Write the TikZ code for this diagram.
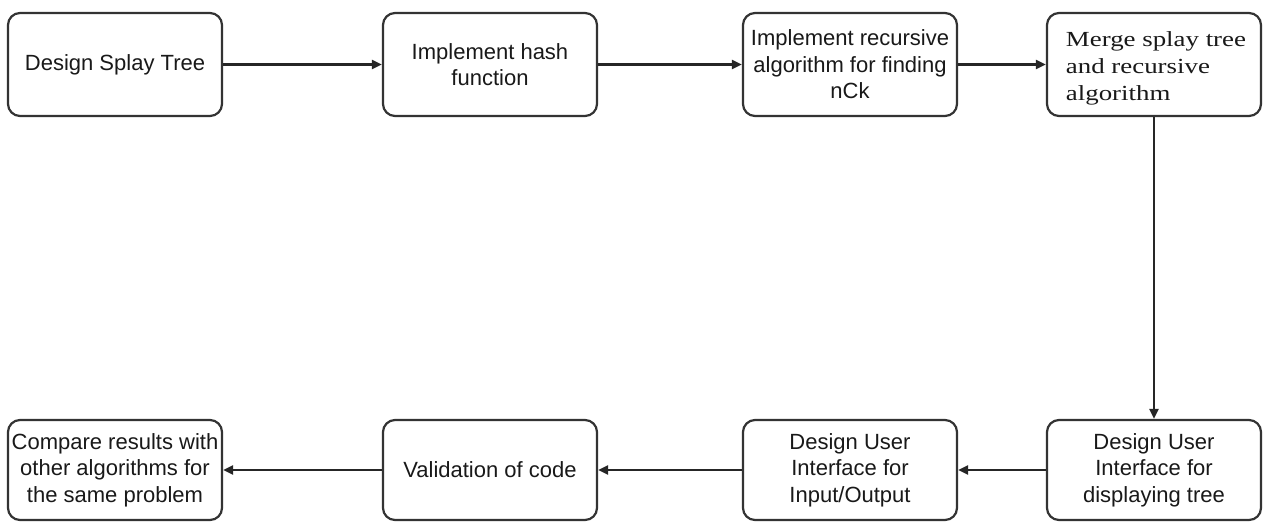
\documentclass[tikz,border=0pt]{standalone}
\usepackage{fontspec}
\setmainfont{Liberation Sans}
\newfontfamily\mergefont[FakeStretch=1.25]{Liberation Serif}
\usetikzlibrary{arrows.meta}
\begin{document}
\begin{tikzpicture}[x=1pt,y=-1pt,
  stepbox/.style={draw=black!80,line width=2.2pt,rounded corners=12pt,fill=white,
    minimum width=214pt,inner sep=0pt,align=center,text=black!90,
    font=\fontsize{22}{26.5}\selectfont},
  toprow/.style={stepbox,minimum height=103pt},
  botrow/.style={stepbox,minimum height=100pt},
  conn/.style={draw=black!85,line width=2.2pt,-{Triangle[length=10pt,width=9pt]}}]
\useasboundingbox (0,0) rectangle (1263,522);
\node[toprow] (b1) at (115,64.5) {Design Splay Tree};
\node[toprow] (b2) at (490,64.5) {Implement hash\\function};
\node[toprow] (b3) at (850,64.5) {Implement recursive\\algorithm for finding\\nCk};
\node[toprow] (b4) at (1154,64.5) {};
\node[align=left,inner sep=0pt,text=black!90,font=\mergefont\fontsize{21.5}{27}\selectfont] (b4t) at (1156,68) {Merge splay tree\\and recursive\\algorithm};
\node[botrow] (c4) at (1154,470) {Design User\\Interface for\\displaying tree};
\node[botrow] (c3) at (850,470) {Design User\\Interface for\\Input/Output};
\node[botrow] (c2) at (490,470) {Validation of code};
\node[botrow] (c1) at (115,470) {Compare results with\\other algorithms for\\the same problem};
\draw[conn] (b1) -- (b2);
\draw[conn] (b2) -- (b3);
\draw[conn] (b3) -- (b4);
\draw[conn] (b4) -- (c4);
\draw[conn] (c4) -- (c3);
\draw[conn] (c3) -- (c2);
\draw[conn] (c2) -- (c1);
\end{tikzpicture}
\end{document}
